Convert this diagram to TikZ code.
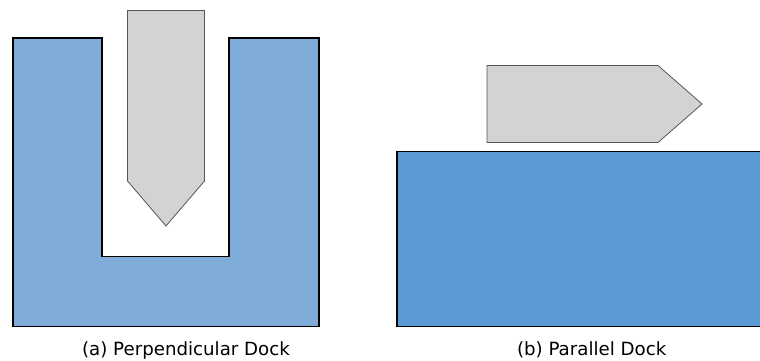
\documentclass[tikz,border=0pt]{standalone}
\usepackage{fontspec}
\setmainfont{DejaVu Sans}
\definecolor{dockA}{HTML}{7FACD9}
\definecolor{dockB}{HTML}{5B9BD5}
\definecolor{hull}{HTML}{D3D3D3}
\definecolor{hullline}{HTML}{555555}
\tikzset{
  dock/.style={draw=black, line width=1.5pt, line join=miter},
  boat/.style={draw=hullline, fill=hull, line width=0.8pt, line join=miter},
  caption/.style={anchor=base, font=\fontsize{18.2}{21}\selectfont, inner sep=0pt}
}
\begin{document}
\begin{tikzpicture}[x=1pt, y=-1pt]
  \useasboundingbox (0,0) rectangle (760,361);
  % (a) U-shaped slip with the vessel entering nose first
  \draw[dock, fill=dockA] (13,38) -- (102,38) -- (102,256.5) -- (229,256.5) -- (229,38)
    -- (319,38) -- (319,326.5) -- (13,326.5) -- cycle;
  \draw[boat] (127.5,10.5) -- (204.5,10.5) -- (204.5,181) -- (166,226) -- (127.5,181) -- cycle;
  \node[caption] (capA) at (186,355) {(a) Perpendicular Dock};
  % (b) straight quay with the vessel alongside
  \draw[dock, fill=dockB] (397,151.5) -- (760.5,151.5) -- (760.5,326.5) -- (397,326.5) -- cycle;
  \draw[boat] (487,65.5) -- (658,65.5) -- (702,104) -- (658,142.5) -- (487,142.5) -- cycle;
  \node[caption] (capB) at (591.7,355) {(b) Parallel Dock};
\end{tikzpicture}
\end{document}
